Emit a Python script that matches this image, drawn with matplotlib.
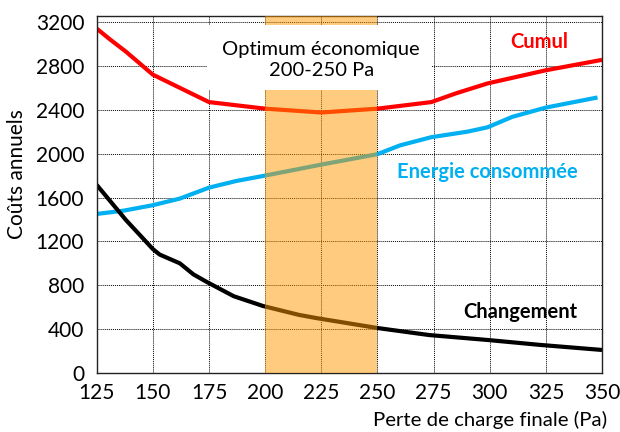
import matplotlib
matplotlib.use("Agg")
import matplotlib.pyplot as plt
from matplotlib.patches import Rectangle

plt.rcParams['font.family'] = ['Lato', 'DejaVu Sans']

# Données
x_cumul = [125, 131, 138, 150, 162, 175, 200, 225, 250, 274, 285, 299, 312, 325, 350]
cumul = [3140, 3040, 2930, 2720, 2600, 2470, 2410, 2375, 2410, 2470, 2550, 2640, 2700, 2760, 2855]

x_energie = [125, 137, 150, 162, 175, 187, 200, 225, 250, 260, 274, 290, 299, 310, 325, 348]
energie = [1450, 1480, 1530, 1590, 1690, 1750, 1800, 1900, 1995, 2075, 2150, 2200, 2240, 2335, 2420, 2512]

x_changement = [125, 138, 150, 153, 162, 168, 174, 186, 199, 215, 223, 250, 273, 299, 323, 350]
changement = [1715, 1395, 1130, 1080, 1000, 900, 830, 700, 611, 530, 500, 410, 346, 301, 255, 210]

xticks = [125, 150, 175, 200, 225, 250, 275, 300, 325, 350]
yticks = [0, 400, 800, 1200, 1600, 2000, 2400, 2800, 3200]

fig = plt.figure(figsize=(6.2, 4.32), dpi=100)
ax = fig.add_axes([0.156, 0.1366, 0.815, 0.8264])

ax.plot(x_cumul, cumul, color='#FF0000', lw=3, solid_capstyle='butt', zorder=2)
ax.plot(x_energie, energie, color='#00B0F0', lw=3, solid_capstyle='butt', zorder=2)
ax.plot(x_changement, changement, color='black', lw=3, solid_capstyle='butt', zorder=2)

# zone optimum
ax.axvspan(200, 250, color='#FF9900', alpha=0.5, lw=0, zorder=3)
ax.add_patch(Rectangle((174, 2580), 100, 592, facecolor='white', edgecolor='none', zorder=4))
ax.text(225, 2853, 'Optimum économique\n200-250 Pa', ha='center', va='center',
        fontsize=14.5, linespacing=1.28, zorder=5)

ax.text(322, 3015, 'Cumul', color='#FF0000', fontsize=14.5, fontweight='bold', ha='center', va='center')
ax.text(299, 1832, 'Energie consommée', color='#00B0F0', fontsize=14.5, fontweight='bold', ha='center', va='center')
ax.text(313.5, 556, 'Changement', color='black', fontsize=14.5, fontweight='bold', ha='center', va='center')

ax.set_xlim(125, 350)
ax.set_ylim(0, 3255)
ax.set_xticks(xticks)
ax.set_yticks(yticks)
ax.tick_params(labelsize=15, length=0)
ax.tick_params(axis='x', pad=7)
ax.tick_params(axis='y', pad=9)
ax.grid(True, color='black', linestyle=(0, (1, 1)), lw=0.7)
for s in ax.spines.values():
    s.set_color('#222222')
    s.set_linewidth(1)

ax.set_ylabel('Coûts annuels', fontsize=15)
ax.yaxis.set_label_coords(-0.137, 0.557)
fig.text(0.98, 0.028, 'Perte de charge finale (Pa)', ha='right', va='center', fontsize=14.7)

fig.savefig('out.png', dpi=100)
